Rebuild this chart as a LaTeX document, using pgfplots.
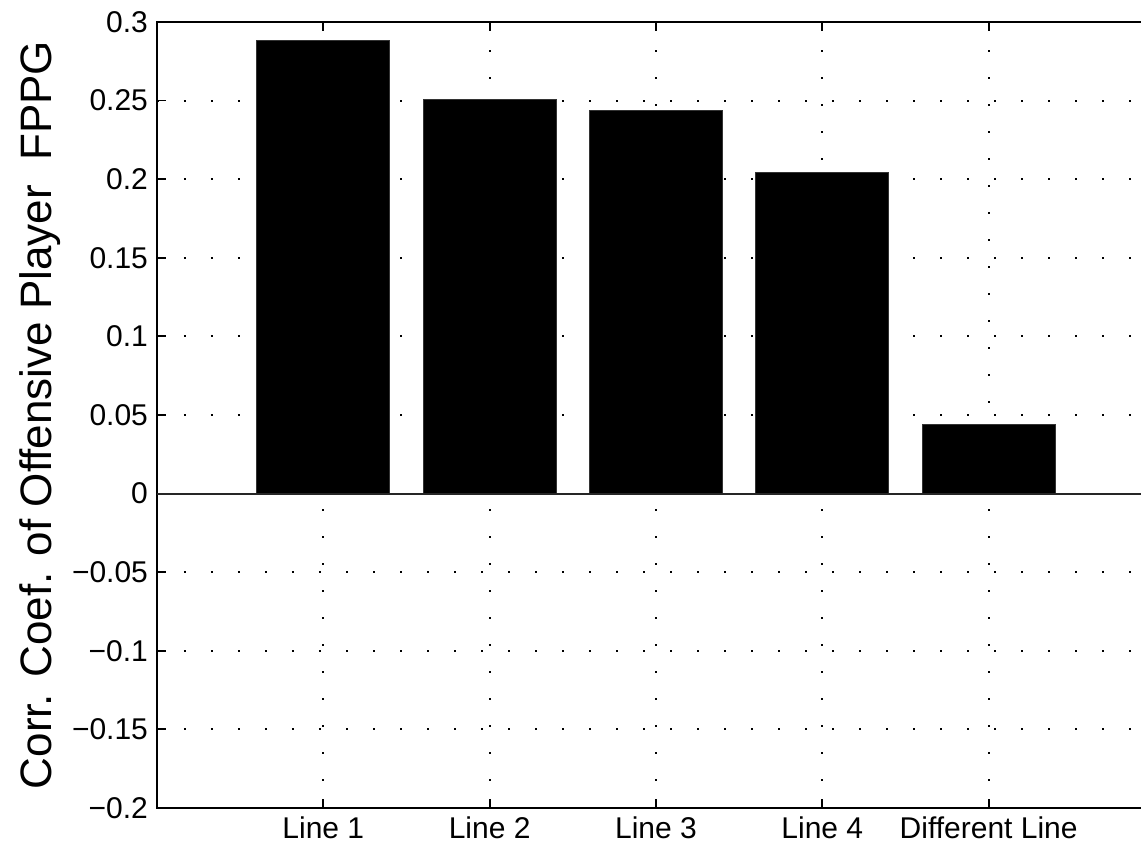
\documentclass[border=0pt]{standalone}
\usepackage{fontspec}
\setmainfont{Liberation Sans}
\usepackage{pgfplots}
\pgfplotsset{compat=1.18}

\pgfplotstableread{
x  r
1  0.288
2  0.251
3  0.244
4  0.2045
5  0.044
}\corrtable

\begin{document}
\begin{tikzpicture}
\begin{axis}[
  scale only axis,
  width=499pt, height=393pt,
  xmin=0, xmax=6,
  ymin=-0.2, ymax=0.3,
  xtick={1,2,3,4,5},
  xticklabels={Line 1, Line 2, Line 3, Line 4, Different Line},
  ytick={-0.2,-0.15,-0.1,-0.05,0,0.05,0.1,0.15,0.2,0.25,0.3},
  yticklabels={−0.2,−0.15,−0.1,−0.05,0,0.05,0.1,0.15,0.2,0.25,0.3},
  tick align=inside,
  major tick length=4.5pt,
  tick style={black, line width=0.9pt},
  axis line style={black, line width=1pt},
  grid=major,
  major grid style={black, line width=1pt, dash pattern=on 0.9pt off 12.6pt},
  tick label style={font=\fontsize{15}{17}\selectfont},
  xticklabel style={yshift=-1pt},
  yticklabel style={xshift=-1pt},
  ylabel={Corr. Coef. of Offensive Player\ \ FPPG},
  ylabel style={font=\fontsize{22}{24}\selectfont, yshift=-1pt},
  clip=false,
]
\addplot[ybar, bar width=0.8, fill=black, draw=black!80, line width=0.4pt]
  table[x=x, y=r] {\corrtable};
% bar baseline
\draw[black!85, line width=1pt] (axis cs:0,0) -- (axis cs:6,0);
\coordinate (lowleft) at (rel axis cs:0,0);
\coordinate (upright) at (rel axis cs:1,1);
\end{axis}
\pgfresetboundingbox
\path[use as bounding box]
  ([xshift=-78.5pt, yshift=-20.5pt]lowleft) rectangle ([xshift=-7pt, yshift=11pt]upright);
\end{tikzpicture}
\end{document}
